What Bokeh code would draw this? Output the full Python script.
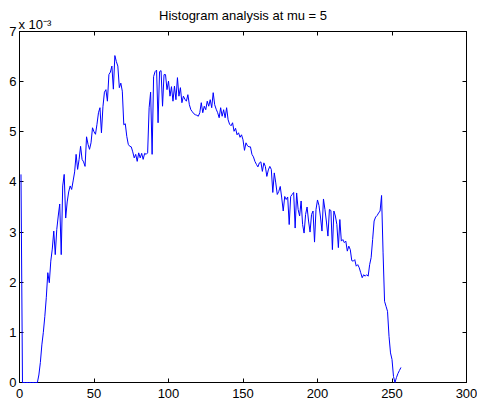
from bokeh.plotting import figure
from bokeh.models import Range1d, FixedTicker, LinearAxis, Label, Title
from bokeh.embed import file_html
from bokeh.resources import INLINE

title_text = "Histogram analysis at mu = 5"
scale_text = "x 10\u207b\u00b3"
x_ticks = [0, 50, 100, 150, 200, 250, 300]
y_ticks = [0, 1, 2, 3, 4, 5, 6, 7]

# histogram values (units of 1e-3), bins 1..256
hist_e3 = [
    4.15, 0, 0, 0, 0, 0, 0, 0, 0, 0,
    0, 0, 0.15, 0.40, 0.75, 1.0, 1.32, 1.7, 2.19, 1.99,
    2.42, 2.66, 3.02, 2.55, 3.05, 3.32, 3.56, 2.55, 3.92, 4.15,
    3.28, 3.6, 3.8, 3.92, 3.85, 4.02, 4.2, 4.55, 4.25, 4.45,
    4.71, 4.45, 4.4, 4.31, 4.9, 4.75, 4.65, 4.78, 5.08, 5.0,
    4.95, 5.15, 5.38, 5.48, 4.98, 5.5, 5.79, 5.84, 5.61, 6.14,
    6.19, 6.31, 5.85, 6.52, 6.4, 6.31, 5.88, 5.97, 5.81, 5.14,
    5.16, 4.91, 4.75, 4.71, 4.70, 4.6, 4.48, 4.55, 4.41, 4.58,
    4.48, 4.57, 4.45, 4.57, 4.55, 4.58, 5.48, 5.79, 4.55, 6.1,
    6.2, 6.23, 5.18, 6.2, 6.22, 5.51, 6.14, 6.14, 5.84, 6.01,
    5.71, 5.9, 5.61, 5.91, 5.64, 6.08, 5.71, 5.88, 5.58, 5.71,
    5.65, 5.61, 5.74, 5.54, 5.44, 5.4, 5.36, 5.34, 5.33, 5.31,
    5.38, 5.58, 5.38, 5.51, 5.44, 5.61, 5.51, 5.64, 5.48, 5.78,
    5.54, 5.45, 5.38, 5.28, 5.48, 5.31, 5.44, 5.28, 5.48, 5.24,
    5.15, 5.12, 5.18, 5.01, 5.07, 4.94, 4.98, 4.89, 4.94, 4.84,
    4.63, 4.78, 4.72, 4.70, 4.70, 4.55, 4.5, 4.41, 4.35, 4.3,
    4.38, 4.40, 4.21, 4.38, 4.31, 4.11, 4.24, 4.31, 4.25, 3.79,
    4.18, 3.98, 3.75, 3.81, 3.91, 3.68, 3.42, 3.71, 3.65, 3.7,
    3.15, 3.71, 3.75, 3.79, 3.08, 3.78, 3.45, 3.32, 3.62, 3.15,
    2.98, 3.35, 3.5, 3.22, 3.0, 3.35, 3.42, 2.8, 3.45, 3.64,
    3.53, 3.3, 3.02, 3.66, 3.45, 3.2, 2.92, 3.45, 3.43, 2.65,
    3.42, 3.32, 3.15, 2.69, 3.25, 2.82, 2.85, 2.79, 2.82, 2.62,
    2.72, 2.65, 2.43, 2.42, 2.45, 2.32, 2.35, 2.29, 2.19, 2.09,
    2.15, 2.12, 2.15, 2.12, 2.35, 2.49, 2.85, 3.22, 3.3, 3.33,
    3.38, 3.42, 3.73, 2.6, 1.62, 1.52, 1.42, 0.92, 0.59, 0.46,
    0.12, 0, 0.1, 0.18, 0.24, 0.3,
]
bins = list(range(1, len(hist_e3) + 1))

FONT = "Liberation Sans"

p = figure(frame_width=447, frame_height=351, output_backend="svg",
           toolbar_location=None, title=None,
           x_range=Range1d(0, 300), y_range=Range1d(0, 7),
           min_border_left=19, min_border_right=11, min_border_top=31,
           min_border_bottom=0)

p.grid.visible = False
p.outline_line_color = "black"
p.background_fill_color = "white"
p.border_fill_color = "white"

p.line(bins, hist_e3, line_color="#0000ff", line_width=1, level="overlay")

def style_axis(ax, ticks, show_labels):
    ax.ticker = FixedTicker(ticks=ticks)
    ax.axis_line_color = "black"
    ax.axis_line_width = 1
    ax.major_tick_line_color = "black"
    ax.major_tick_in = 4
    ax.major_tick_out = 0
    ax.minor_tick_line_color = None
    ax.major_label_text_font = FONT
    if show_labels:
        ax.major_label_text_font_size = "13px"
        ax.major_label_text_color = "black"
    else:
        ax.major_label_text_font_size = "1px"
        ax.major_label_text_color = None
        ax.major_label_standoff = 0

style_axis(p.xaxis[0], x_ticks, True)
p.xaxis[0].major_label_standoff = 6
style_axis(p.yaxis[0], y_ticks, True)
p.yaxis[0].major_label_standoff = 3

top_ax = LinearAxis()
style_axis(top_ax, x_ticks, False)
p.add_layout(top_ax, "above")
right_ax = LinearAxis()
style_axis(right_ax, y_ticks, False)
p.add_layout(right_ax, "right")

# exponent note placed in the top panel (not clipped to the frame)
p.add_layout(Label(x=0, y=7, x_offset=-1, y_offset=7, text=scale_text,
                   text_font=FONT, text_font_size="13px", text_color="black",
                   text_baseline="alphabetic"), "above")

p.add_layout(Title(text=title_text, align="center", text_font=FONT,
                   text_font_size="13px", text_font_style="normal",
                   text_color="black", standoff=-12), "above")

open("out.html", "w").write(file_html(p, INLINE))
